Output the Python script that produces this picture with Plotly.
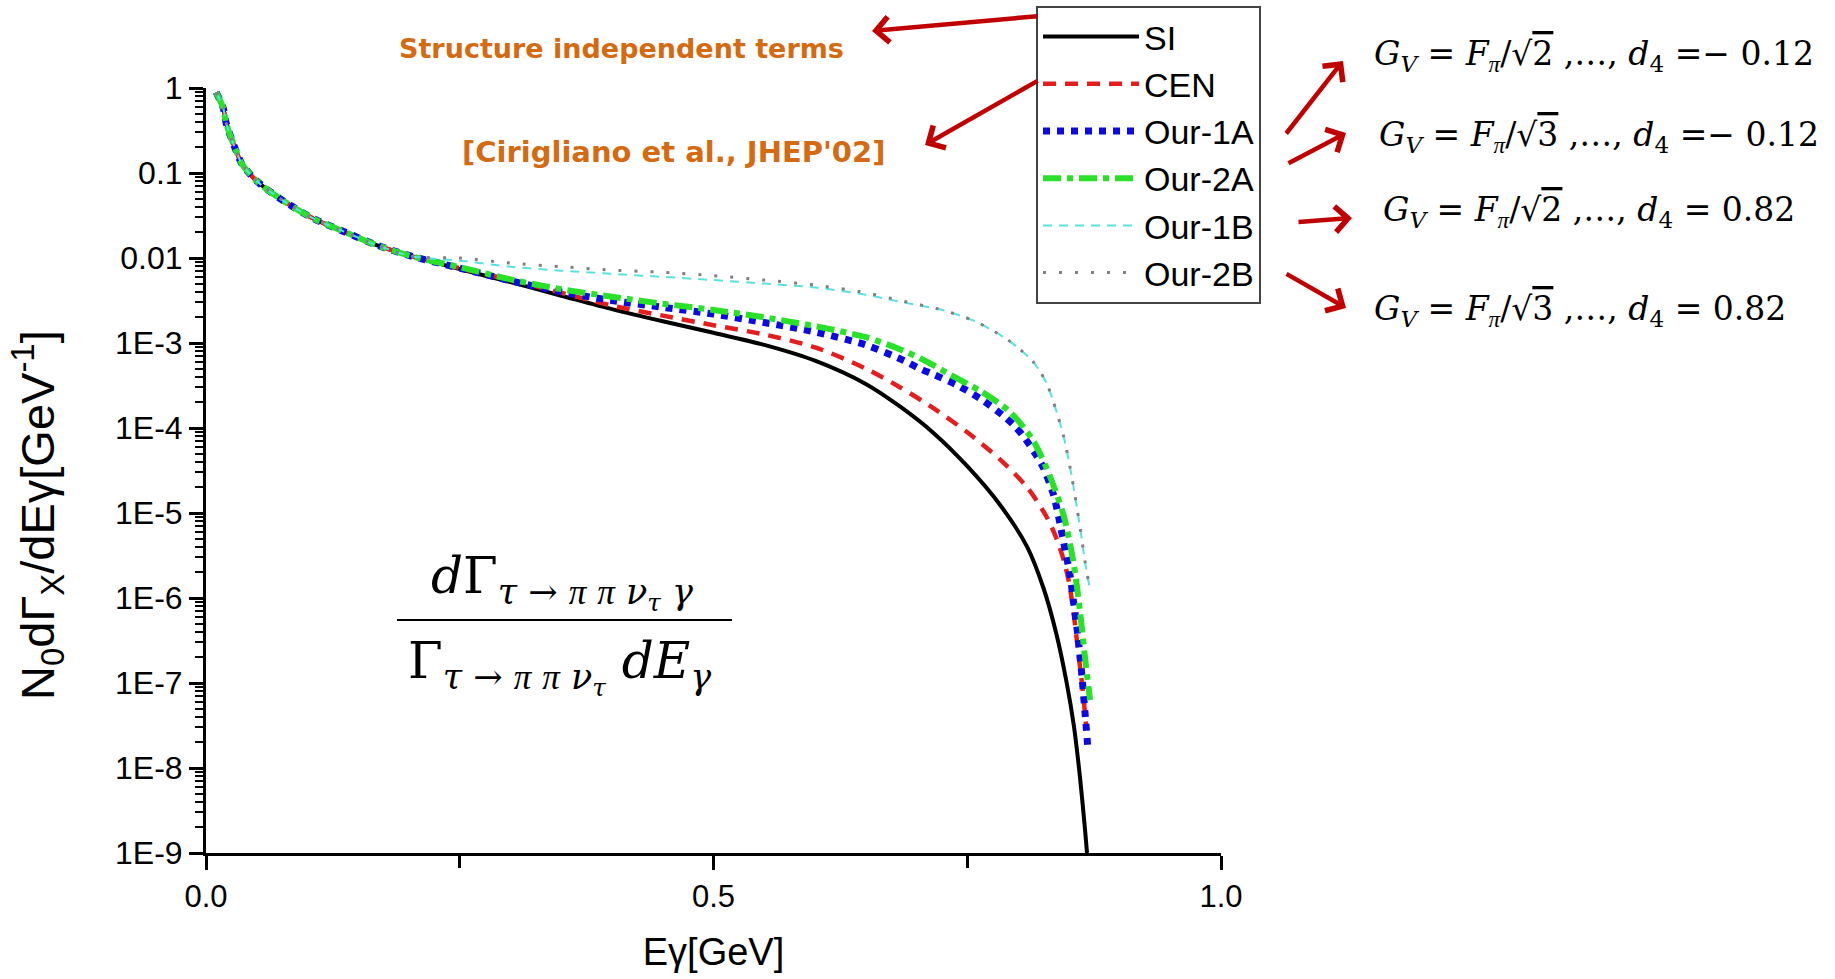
import plotly.graph_objects as go

# ---------------- data ----------------
x_common = [0.01, 0.017, 0.02, 0.03, 0.035, 0.047, 0.058, 0.08, 0.106, 0.132, 0.168, 0.204]
y_common = [0.89, 0.58, 0.38, 0.178, 0.13, 0.087, 0.067, 0.044, 0.029, 0.0214, 0.0142, 0.0104]

si_x = x_common + [0.25, 0.3, 0.35, 0.4, 0.45, 0.5, 0.55, 0.6, 0.65, 0.684, 0.717, 0.75, 0.782,
                   0.809, 0.825, 0.838, 0.848, 0.855, 0.861, 0.866, 0.868]
si_y = y_common + [7.4e-3, 5.2e-3, 3.6e-3, 2.5e-3, 1.8e-3, 1.32e-3, 9.5e-4, 6.2e-4, 3.3e-4, 1.78e-4,
                   8.7e-5, 3.55e-5, 1.26e-5, 4.0e-6, 1.32e-6, 3.7e-7, 1.0e-7, 3.16e-8, 7.9e-9, 1.9e-9, 1.0e-9]

cen_x = x_common + [0.25, 0.3, 0.35, 0.4, 0.45, 0.5, 0.55, 0.6, 0.65, 0.684, 0.717, 0.75, 0.782,
                    0.809, 0.828, 0.838, 0.845, 0.85, 0.8545, 0.859, 0.864, 0.867]
cen_y = y_common + [7.6e-3, 5.5e-3, 3.9e-3, 2.75e-3, 2.1e-3, 1.62e-3, 1.26e-3, 8.9e-4, 5.0e-4, 3.0e-4,
                    1.7e-4, 8.9e-5, 4.3e-5, 2.0e-5, 9.1e-6, 5.0e-6, 2.8e-6, 1.58e-6, 7.1e-7, 2.5e-7,
                    7.9e-8, 3.16e-8]

our1a_x = x_common + [0.25, 0.3, 0.35, 0.4, 0.45, 0.5, 0.55, 0.6, 0.65, 0.689, 0.703, 0.717, 0.74,
                      0.764, 0.786, 0.797, 0.807, 0.817, 0.825, 0.835, 0.84, 0.845, 0.851, 0.8545,
                      0.859, 0.863, 0.866, 0.869]
our1a_y = y_common + [7.6e-3, 5.4e-3, 4.0e-3, 3.16e-3, 2.63e-3, 2.19e-3, 1.74e-3, 1.35e-3, 9.5e-4,
                      6.1e-4, 5.0e-4, 4.25e-4, 3.2e-4, 2.17e-4, 1.38e-4, 1.05e-4, 7.5e-5, 5.0e-5,
                      3.4e-5, 1.64e-5, 9.0e-6, 4.5e-6, 1.94e-6, 9.5e-7, 3.6e-7, 1.2e-7, 4.5e-8, 1.62e-8]

our2a_x = x_common + [0.25, 0.3, 0.35, 0.4, 0.45, 0.5, 0.55, 0.6, 0.65, 0.684, 0.707, 0.733, 0.763,
                      0.792, 0.815, 0.8315, 0.845, 0.8545, 0.861, 0.866, 0.871]
our2a_y = y_common + [7.8e-3, 5.6e-3, 4.3e-3, 3.5e-3, 2.9e-3, 2.45e-3, 2.0e-3, 1.58e-3, 1.17e-3,
                      8.4e-4, 6.3e-4, 4.25e-4, 2.72e-4, 1.55e-4, 7.1e-5, 2.7e-5, 9.3e-6, 2.7e-6,
                      7.1e-7, 2.0e-7, 6.3e-8]

our1b_x = x_common + [0.25, 0.3, 0.35, 0.4, 0.45, 0.5, 0.55, 0.6, 0.65, 0.684, 0.726, 0.756, 0.772,
                      0.789, 0.802, 0.815, 0.828, 0.838, 0.845, 0.851, 0.858, 0.863, 0.866, 0.871]
our1b_y = y_common + [9.3e-3, 7.9e-3, 7.1e-3, 6.5e-3, 6.0e-3, 5.5e-3, 5.0e-3, 4.5e-3, 3.7e-3, 3.05e-3,
                      2.43e-3, 1.84e-3, 1.47e-3, 1.11e-3, 8.4e-4, 6.0e-4, 3.4e-4, 1.55e-4, 7.9e-5,
                      3.6e-5, 1.17e-5, 4.8e-6, 2.7e-6, 1.24e-6]

our2b_x = x_common + [0.25, 0.3, 0.35, 0.4, 0.45, 0.5, 0.55, 0.6, 0.65, 0.684, 0.726, 0.756, 0.772,
                      0.789, 0.802, 0.815, 0.828, 0.838, 0.845, 0.851, 0.858, 0.863, 0.866, 0.871]
our2b_y = y_common + [1.0e-2, 8.7e-3, 7.9e-3, 7.2e-3, 6.8e-3, 6.2e-3, 5.5e-3, 4.8e-3, 3.9e-3, 3.16e-3,
                      2.43e-3, 1.84e-3, 1.47e-3, 1.11e-3, 8.4e-4, 6.0e-4, 3.4e-4, 1.55e-4, 7.9e-5,
                      3.6e-5, 1.17e-5, 4.8e-6, 2.7e-6, 1.24e-6]

series_names = ["SI", "CEN", "Our-1A", "Our-2A", "Our-1B", "Our-2B"]

y_tick_vals = [1, 0.1, 0.01, 1e-3, 1e-4, 1e-5, 1e-6, 1e-7, 1e-8, 1e-9]
y_tick_text = ["1", "0.1", "0.01", "1E-3", "1E-4", "1E-5", "1E-6", "1E-7", "1E-8", "1E-9"]
x_tick_vals = [0.0, 0.5, 1.0]
x_tick_text = ["0.0", "0.5", "1.0"]

PI = "<span style='font-family:Liberation Serif'><i>π</i></span>"
OV2 = "√<span style='text-decoration:overline'>2</span>"
OV3 = "√<span style='text-decoration:overline'>3</span>"
GV = "<i>G</i><sub><i>V</i></sub> = <i>F</i><sub>" + PI + "</sub>/"
param_labels = [
    GV + OV2 + " ,…, <i>d</i><sub>4</sub> =− 0.12",
    GV + OV3 + " ,…, <i>d</i><sub>4</sub> =− 0.12",
    GV + OV2 + " ,…, <i>d</i><sub>4</sub> = 0.82",
    GV + OV3 + " ,…, <i>d</i><sub>4</sub> = 0.82",
]

# ---------------- layout geometry ----------------
W, H = 1835, 979
L, R, T, B = 206, 614, 88, 126
PW, PH = W - L - R, H - T - B


def px(xp):
    return (xp - L) / PW


def py(yp):
    return (H - B - yp) / PH


fig = go.Figure()

styles = [
    dict(color="black", width=4, dash="solid"),
    dict(color="rgb(228,30,30)", width=4.5, dash="13px,9px"),
    dict(color="rgb(10,10,225)", width=7, dash="7px,7px"),
    dict(color="rgb(40,225,40)", width=6, dash="dashdot"),
    dict(color="rgb(90,225,225)", width=2, dash="9px,7px"),
    dict(color="rgb(128,128,128)", width=3, dash="3px,13px"),
]
data = [(si_x, si_y), (cen_x, cen_y), (our1a_x, our1a_y), (our2a_x, our2a_y),
        (our1b_x, our1b_y), (our2b_x, our2b_y)]

for i, ((xs, ys), name, st) in enumerate(zip(data, series_names, styles)):
    fig.add_trace(go.Scatter(
        x=xs, y=ys, name=name, mode="lines", legendgroup=f"g{i}",
        line=dict(color=st["color"], width=st["width"], dash=st["dash"],
                  shape="spline", smoothing=0.8),
    ))

fig.update_layout(
    width=W, height=H,
    margin=dict(l=L, r=R, t=T, b=B, autoexpand=False),
    paper_bgcolor="white", plot_bgcolor="white",
    font=dict(family="Liberation Sans, Arial, sans-serif", color="black"),
    showlegend=True,
    legend=dict(
        x=px(1036), y=py(6), xanchor="left", yanchor="top",
        bordercolor="#444", borderwidth=2, bgcolor="white",
        font=dict(size=34, family="Liberation Sans, Arial, sans-serif", color="black"),
        itemwidth=96, tracegroupgap=0,
    ),
    xaxis=dict(
        range=[0, 1], tickvals=x_tick_vals, ticktext=x_tick_text,
        showline=True, linecolor="black", linewidth=3, mirror=False,
        ticks="outside", ticklen=14, tickwidth=3, tickcolor="black",
        showgrid=False, zeroline=False,
        tickfont=dict(size=31),
        minor=dict(tickvals=[0.25, 0.75], ticks="outside", ticklen=12, tickwidth=3,
                   tickcolor="black", showgrid=False),
        title=dict(text="Eγ[GeV]", font=dict(size=38), standoff=26),
    ),
    yaxis=dict(
        type="log", range=[-9, 0], tickvals=y_tick_vals, ticktext=y_tick_text,
        showline=True, linecolor="black", linewidth=3, mirror=False,
        ticks="outside", ticklen=14, tickwidth=3, tickcolor="black",
        showgrid=False, zeroline=False,
        tickfont=dict(size=32),
        minor=dict(tickvals=[m * 10 ** e for e in range(-9, 0) for m in range(2, 10)],
                   ticks="outside", ticklen=8, tickwidth=2, tickcolor="black", showgrid=False),
    ),
)

# y-axis title placed as a rotated annotation (matches the reference's offset position)
fig.add_annotation(x=px(37), y=py(515), xref="paper", yref="paper", showarrow=False,
                   xanchor="center", yanchor="middle", textangle=-90,
                   text="N<sub>0</sub>dΓ<sub>X</sub>/dEγ[GeV<sup>-1</sup>]",
                   font=dict(family="Liberation Sans, Arial, sans-serif", size=47, color="black"))

orange = "rgb(212,106,18)"
fig.add_annotation(x=px(621), y=py(49), xref="paper", yref="paper", showarrow=False,
                   xanchor="center", yanchor="middle",
                   text="<b>Structure independent terms</b>",
                   font=dict(family="DejaVu Sans", size=27, color=orange))
fig.add_annotation(x=px(673), y=py(152), xref="paper", yref="paper", showarrow=False,
                   xanchor="center", yanchor="middle",
                   text="<b>[Cirigliano et al., JHEP'02]</b>",
                   font=dict(family="DejaVu Sans", size=29, color=orange))

# arrows: (head_x, head_y, tail_x, tail_y) in figure pixels
arrows = [(872, 31, 1039, 16), (925, 145, 1039, 80), (1343, 61, 1285, 135),
          (1346, 133, 1287, 164), (1352, 218, 1297, 222), (1346, 308, 1285, 273)]
for hx, hy, tx, ty in arrows:
    fig.add_annotation(x=px(hx), y=py(hy), xref="paper", yref="paper", text="",
                       showarrow=True, ax=tx - hx, ay=ty - hy, axref="pixel", ayref="pixel",
                       arrowhead=4, arrowsize=1.1, arrowwidth=4.5, arrowcolor="rgb(192,0,0)",
                       standoff=0, startstandoff=0)

param_pos = [(1372, 56), (1377, 136), (1381, 211), (1372, 310)]
for (lx, ly), txt in zip(param_pos, param_labels):
    fig.add_annotation(x=px(lx), y=py(ly), xref="paper", yref="paper", showarrow=False,
                       xanchor="left", yanchor="middle", text=txt,
                       font=dict(family="DejaVu Serif, serif", size=33, color="black"))

# fraction inside plot
fig.add_annotation(x=px(562), y=py(619), xref="paper", yref="paper", showarrow=False,
                   xanchor="center", yanchor="bottom",
                   text="<i>d</i>Γ<sub><i>τ</i> → " + PI + " " + PI + " <i>ν</i><sub><i>τ</i></sub> <i>γ</i></sub>",
                   font=dict(family="DejaVu Serif, serif", size=50, color="black"))
fig.add_annotation(x=px(559), y=py(630), xref="paper", yref="paper", showarrow=False,
                   xanchor="center", yanchor="top",
                   text="Γ<sub><i>τ</i> → " + PI + " " + PI + " <i>ν</i><sub><i>τ</i></sub></sub> <i>dE</i><sub><i>γ</i></sub>",
                   font=dict(family="DejaVu Serif, serif", size=50, color="black"))
fig.add_shape(type="line", xref="paper", yref="paper", x0=px(397), x1=px(732), y0=py(620), y1=py(620),
              line=dict(color="black", width=2))

fig.write_html("out.html")
